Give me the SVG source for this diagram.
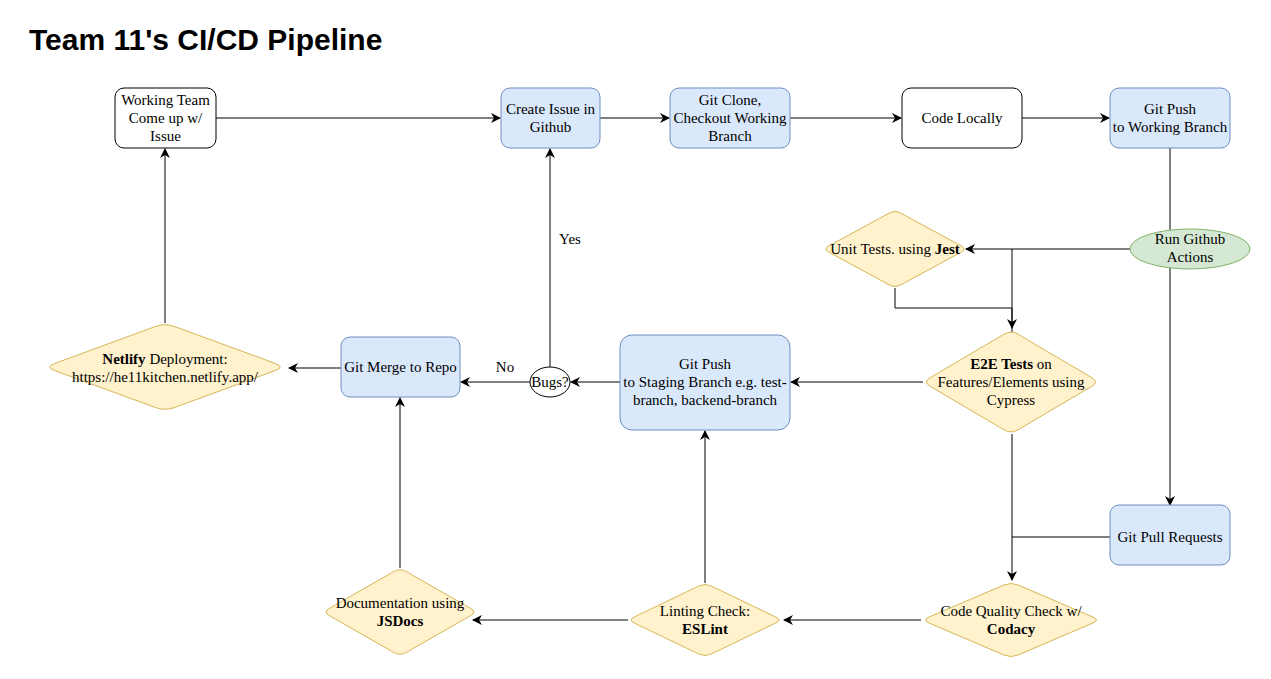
<svg xmlns="http://www.w3.org/2000/svg" width="1271" height="679" viewBox="0 0 1271 679">
<defs>
<marker id="arr" viewBox="0 0 10 10" refX="9" refY="5" markerWidth="10" markerHeight="10" markerUnits="userSpaceOnUse" orient="auto">
<path d="M0,0 L10,5 L0,10 L3,5 Z" fill="#000"/>
</marker>
</defs>
<style>
text{font-family:"Liberation Serif","Times New Roman",serif;font-size:15px;fill:#000;text-anchor:middle}
.title{font-family:"Liberation Sans",Arial,sans-serif;font-size:30px;font-weight:bold;text-anchor:start}
.w{fill:#fff;stroke:#000;stroke-width:1}
.b{fill:#dae8fc;stroke:#6c8ebf;stroke-width:1}
.y{fill:#fff2cc;stroke:#d6b656;stroke-width:1;stroke-linejoin:round}
.g{fill:#d5e8d4;stroke:#82b366;stroke-width:1}
.e{fill:none;stroke:#000;stroke-width:1}
.ea{fill:none;stroke:#000;stroke-width:1;marker-end:url(#arr)}
.bd{font-weight:bold}
</style>
<rect width="1271" height="679" fill="#fff"/>
<text class="title" x="29" y="50">Team 11's CI/CD Pipeline</text>

<g id="connectors">
<path class="ea" d="M216,118 H500"/>
<path class="ea" d="M600,118 H669"/>
<path class="ea" d="M790,118 H901"/>
<path class="ea" d="M1022,118 H1109"/>
<path class="e" d="M1170,148 V230"/>
<path class="ea" d="M1170,268 V505"/>
<path class="ea" d="M1130,249 H966"/>
<path class="ea" d="M1012,249 V345"/>
<path class="ea" d="M895,288 V308 H1012 V328"/>
<path class="ea" d="M923,382 H791"/>
<path class="ea" d="M620,382 H571"/>
<path class="ea" d="M550,367 V149"/>
<path class="ea" d="M530,382 H461"/>
<path class="ea" d="M341,368 H289"/>
<path class="ea" d="M165,323 V149"/>
<path class="ea" d="M1012,434 V580"/>
<path class="e" d="M1110,537 H1012"/>
<path class="ea" d="M921,620 H784"/>
<path class="ea" d="M705,583 V431"/>
<path class="ea" d="M628,620 H473"/>
<path class="ea" d="M400,568 V398"/>
<text x="570" y="244">Yes</text>
<text x="505" y="372">No</text>
</g>

<g id="working-team">
<rect class="w" x="115" y="88" width="101" height="60" rx="9"/>
<text x="165.5" y="105">Working Team</text>
<text x="165.5" y="123">Come up w/</text>
<text x="165.5" y="141">Issue</text>
</g>
<g id="create-issue">
<rect class="b" x="501" y="88" width="99" height="60" rx="9"/>
<text x="550.5" y="114">Create Issue in</text>
<text x="550.5" y="132">Github</text>
</g>
<g id="git-clone">
<rect class="b" x="670" y="88" width="120" height="60" rx="9"/>
<text x="730" y="105">Git Clone,</text>
<text x="730" y="123">Checkout Working</text>
<text x="730" y="141">Branch</text>
</g>
<g id="code-locally">
<rect class="w" x="902" y="88" width="120" height="60" rx="9"/>
<text x="962" y="123">Code Locally</text>
</g>
<g id="git-push-working">
<rect class="b" x="1110" y="88" width="120" height="60" rx="9"/>
<text x="1170" y="114">Git Push</text>
<text x="1170" y="132">to Working Branch</text>
</g>
<g id="run-actions">
<ellipse class="g" cx="1190" cy="249" rx="60" ry="20"/>
<text x="1190" y="244">Run Github</text>
<text x="1190" y="262">Actions</text>
</g>
<g id="unit-tests">
<path class="y" d="M900.8,213.1 L961.2,245.9 Q967,249 961.2,252.1 L900.8,284.9 Q895,288 889.2,284.9 L828.8,252.1 Q823,249 828.8,245.9 L889.2,213.1 Q895,210 900.8,213.1 Z"/>
<text x="895" y="254">Unit Tests. using <tspan class="bd">Jest</tspan></text>
</g>
<g id="e2e-tests">
<path class="y" d="M1018,334.2 L1092,377.8 Q1099,382 1092,386.2 L1018,429.8 Q1011,434 1004,429.8 L930,386.2 Q923,382 930,377.8 L1004,334.2 Q1011,330 1018,334.2 Z"/>
<text x="1011" y="369"><tspan class="bd">E2E Tests</tspan> on</text>
<text x="1011" y="387">Features/Elements using</text>
<text x="1011" y="405">Cypress</text>
</g>
<g id="git-push-staging">
<rect class="b" x="620" y="335" width="170" height="95" rx="12"/>
<text x="705" y="369">Git Push</text>
<text x="705" y="387">to Staging Branch e.g. test-</text>
<text x="705" y="405">branch, backend-branch</text>
</g>
<g id="bugs">
<ellipse class="w" cx="550" cy="382" rx="20" ry="15"/>
<text x="550" y="387">Bugs?</text>
</g>
<g id="git-merge">
<rect class="b" x="341" y="337" width="119" height="60" rx="9"/>
<text x="400.5" y="372">Git Merge to Repo</text>
</g>
<g id="netlify">
<path class="y" d="M174.6,326.5 L275.4,363.5 Q285,367 275.4,370.5 L174.6,407.5 Q165,411 155.4,407.5 L54.6,370.5 Q45,367 54.6,363.5 L155.4,326.5 Q165,323 174.6,326.5 Z"/>
<text x="165" y="364"><tspan class="bd">Netlify</tspan> Deployment:</text>
<text x="165" y="382">https://he11kitchen.netlify.app/</text>
</g>
<g id="git-pull">
<rect class="b" x="1110" y="505" width="120" height="60" rx="9"/>
<text x="1170" y="542">Git Pull Requests</text>
</g>
<g id="code-quality">
<path class="y" d="M1018.1,585 L1092.9,617 Q1100,620 1092.9,623 L1018.1,655 Q1011,658 1003.9,655 L929.1,623 Q922,620 929.1,617 L1003.9,585 Q1011,582 1018.1,585 Z"/>
<text x="1011" y="616">Code Quality Check w/</text>
<text x="1011" y="634" class="bd">Codacy</text>
</g>
<g id="linting">
<path class="y" d="M711.2,586 L775.8,617 Q782,620 775.8,623 L711.2,654 Q705,657 698.8,654 L634.2,623 Q628,620 634.2,617 L698.8,586 Q705,583 711.2,586 Z"/>
<text x="705" y="616">Linting Check:</text>
<text x="705" y="634" class="bd">ESLint</text>
</g>
<g id="documentation">
<path class="y" d="M406.2,571.5 L470.8,608.5 Q477,612 470.8,615.5 L406.2,652.5 Q400,656 393.8,652.5 L329.2,615.5 Q323,612 329.2,608.5 L393.8,571.5 Q400,568 406.2,571.5 Z"/>
<text x="400" y="608">Documentation using</text>
<text x="400" y="626" class="bd">JSDocs</text>
</g>
</svg>
